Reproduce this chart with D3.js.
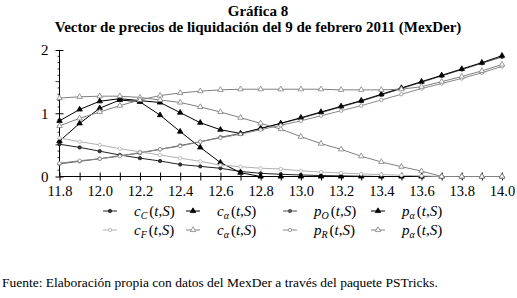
<!DOCTYPE html>
<html><head><meta charset="utf-8">
<script src="https://cdn.jsdelivr.net/npm/d3@7"></script>
<style>body{margin:0;background:#fff} svg text{font-family:'Liberation Serif','Times New Roman',Times,serif}</style>
</head><body>
<svg id="c" width="517" height="298"></svg>
<script>
const strikes = d3.range(0, 23).map(i => +(11.8 + i * 0.1).toFixed(1));
const cC      = [0.51,0.46,0.40,0.34,0.29,0.245,0.19,0.16,0.13,0.08,0.05,0.035,0.024,0.015,0.01,0.005,0,0,0,0,0,0,0];
const cAlpha  = [0.56,0.84,1.08,1.21,1.18,0.97,0.71,0.46,0.22,0.06,0,0,0,0,0,0,0,0,0,0,0,0,0];
const pO      = [0.20,0.24,0.28,0.33,0.37,0.43,0.49,0.55,0.62,0.68,0.76,0.84,0.92,1.01,1.10,1.19,1.29,1.39,1.49,1.59,1.69,1.79,1.89];
const pAlpha  = [0.88,1.06,1.19,1.23,1.20,1.17,1.01,0.85,0.74,0.68,0.76,0.84,0.93,1.02,1.11,1.20,1.30,1.40,1.50,1.60,1.70,1.80,1.91];
const cF      = [0.61,0.55,0.50,0.44,0.39,0.34,0.29,0.24,0.18,0.155,0.13,0.12,0.09,0.07,0.055,0.04,0.03,0.02,0.01,0,0,0,0];
const cAlpha2 = [1.24,1.26,1.27,1.27,1.25,1.21,1.17,1.10,1.02,0.93,0.84,0.75,0.63,0.52,0.43,0.32,0.23,0.155,0.085,0,0,0,0];
const pR      = [0.21,0.25,0.28,0.32,0.38,0.43,0.48,0.55,0.61,0.67,0.74,0.81,0.88,0.96,1.04,1.12,1.21,1.30,1.39,1.47,1.55,1.64,1.74];
const pAlpha2 = [0.80,0.92,1.02,1.12,1.21,1.28,1.32,1.35,1.37,1.38,1.38,1.38,1.38,1.38,1.37,1.37,1.37,1.38,1.42,1.50,1.58,1.67,1.77];
const xTicks = d3.range(0, 23).map(i => +(11.8 + i * 0.1).toFixed(1));
const yTicks = [0, 1, 2];

// drawing order = legend order (black series first, grey on top)
const series = [
  {name:"c", sub:"C", vals:cC, color:"#222", sym:"circle", fill:"#333"},
  {name:"c", sub:"\u03b1", vals:cAlpha, color:"#000", sym:"triangle", fill:"#000"},
  {name:"p", sub:"O", vals:pO, color:"#505050", sym:"circle", fill:"#555"},
  {name:"p", sub:"\u03b1", vals:pAlpha, color:"#000", sym:"triangle", fill:"#000"},
  {name:"c", sub:"F", vals:cF, color:"#b0b0b0", sym:"circle", fill:"#fff"},
  {name:"c", sub:"\u03b1", vals:cAlpha2, color:"#808080", sym:"triangle", fill:"#fff"},
  {name:"p", sub:"R", vals:pR, color:"#8a8a8a", sym:"circle", fill:"#fff"},
  {name:"p", sub:"\u03b1", vals:pAlpha2, color:"#808080", sym:"triangle", fill:"#fff"}
];
const FONT = "'Liberation Serif','Times New Roman',Times,serif";

const svg = d3.select("#c");
const x = d3.scaleLinear().domain([11.8, 14.0]).range([59.5, 502]);
const y = d3.scaleLinear().domain([0, 2]).range([176.5, 50]);

svg.append("text").attr("x", 258).attr("y", 16).attr("text-anchor","middle")
  .attr("font-family",FONT).attr("font-weight","bold").attr("font-size",15).text("Gráfica 8");
svg.append("text").attr("x", 258).attr("y", 32).attr("text-anchor","middle")
  .attr("font-family",FONT).attr("font-weight","bold").attr("font-size",15)
  .text("Vector de precios de liquidación del 9 de febrero 2011 (MexDer)");

// x axis
const xa = svg.append("g").attr("transform",`translate(0,${y(0)})`)
  .call(d3.axisBottom(x).tickValues(xTicks).tickSize(4).tickSizeOuter(0)
    .tickFormat((d,i) => i % 2 === 0 ? d3.format(".1f")(d) : ""));
xa.attr("font-family", FONT);
xa.select(".domain").attr("stroke","#000").attr("d", `M${x(11.8)},0H${x(14.0)}`);
xa.selectAll(".tick line").attr("y1",-4).attr("y2",4).attr("stroke","#000");
xa.selectAll(".tick text").attr("font-family",FONT).attr("font-size",14.5).attr("fill","#000").attr("dy","0.85em");

// y axis
const ya = svg.append("g").attr("transform",`translate(${x(11.8)},0)`)
  .call(d3.axisLeft(y).tickValues(yTicks).tickSize(4).tickSizeOuter(0).tickFormat(d3.format("d")));
ya.attr("font-family", FONT);
ya.select(".domain").attr("stroke","#000").attr("d", `M0,${y(0)}V${y(2)}`);
ya.selectAll(".tick line").attr("x1",4).attr("x2",-4).attr("stroke","#000");
ya.selectAll(".tick text").attr("font-family",FONT).attr("font-size",15).attr("fill","#000").attr("x",-11);
const minor = d3.range(1, 20).filter(i => i % 10 !== 0).map(i => i / 10);
ya.selectAll(".minor").data(minor).enter().append("line")
  .attr("x1",0).attr("x2", d => Math.abs(d*10 % 10 - 5) < 0.01 ? -4 : -2)
  .attr("y1", d => y(d)).attr("y2", d => y(d)).attr("stroke","#000").attr("stroke-width",0.8);

const line = d3.line().x((d,i) => x(strikes[i])).y(d => y(d));
const sym = {circle: d3.symbol().type(d3.symbolCircle).size(9), triangle: d3.symbol().type(d3.symbolTriangle).size(13)};

series.forEach(s => {
  const g = svg.append("g");
  g.append("path").attr("d", line(s.vals)).attr("fill","none").attr("stroke", s.color).attr("stroke-width", 1);
  g.selectAll("path.m").data(s.vals).enter().append("path").attr("class","m")
    .attr("transform",(d,i) => `translate(${x(strikes[i])},${y(d)})`)
    .attr("d", sym[s.sym]()).attr("fill", s.fill).attr("stroke", s.color).attr("stroke-width", 0.8);
});

// legend
const lx = [103, 186, 283, 371];
const ly = [211, 230];
series.forEach((s, k) => {
  const cx = lx[k % 4], cy = ly[Math.floor(k / 4)];
  svg.append("line").attr("x1", cx).attr("x2", cx + 14).attr("y1", cy).attr("y2", cy).attr("stroke", s.color);
  svg.append("path").attr("transform",`translate(${cx+7},${cy})`).attr("d", sym[s.sym]()).attr("fill", s.fill).attr("stroke", s.color).attr("stroke-width",0.8);
  const t = svg.append("text").attr("x", cx + 31).attr("y", cy + 5)
    .attr("font-family",FONT).attr("font-size",15).attr("fill","#000");
  t.append("tspan").attr("font-style","italic").text(s.name);
  t.append("tspan").attr("font-style","italic").attr("font-size",10).attr("dy",3).text(s.sub);
  t.append("tspan").attr("dy",-3).attr("dx",2).text("(");
  t.append("tspan").attr("font-style","italic").text("t");
  t.append("tspan").text(",");
  t.append("tspan").attr("font-style","italic").text("S");
  t.append("tspan").text(")");
});

svg.append("text").attr("x", 2).attr("y", 287).attr("font-family",FONT).attr("font-size",13.5)
  .text("Fuente: Elaboración propia con datos del MexDer a través del paquete PSTricks.");
</script>
</body></html>
